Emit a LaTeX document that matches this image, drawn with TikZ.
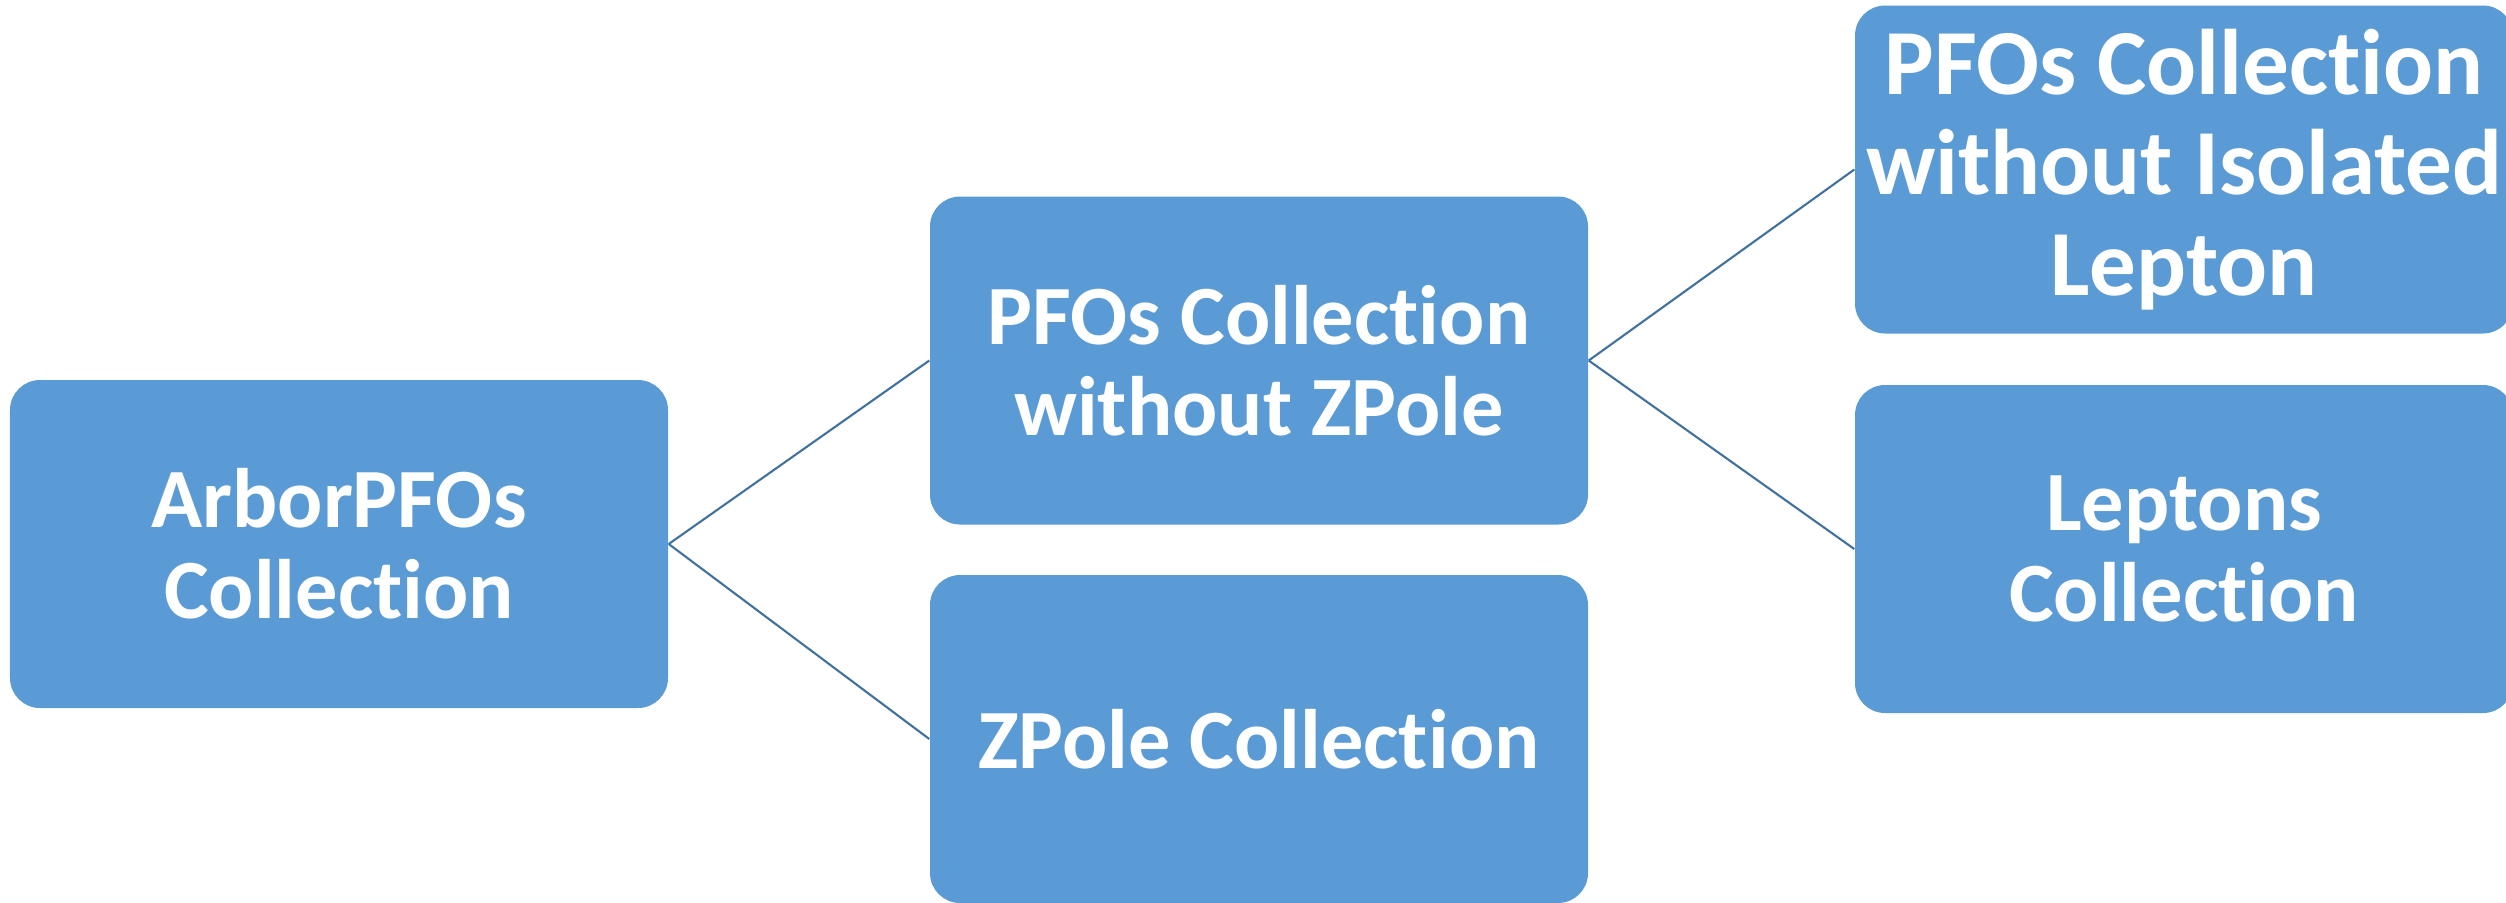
\documentclass[tikz,border=0pt]{standalone}
\usepackage{fontspec}
\setmainfont{Carlito}[Ligatures=NoCommon]
\usepackage{tikz}
\definecolor{boxblue}{HTML}{5B9BD5}
\definecolor{lineblue}{HTML}{41719C}

\begin{document}
\begin{tikzpicture}[
  coll/.style={draw=none, fill=boxblue, rounded corners=0.3cm, text=white,
    font=\bfseries\fontsize{24}{26}\selectfont, align=center,
    minimum width=6.58cm, minimum height=3.28cm, inner sep=0pt},
  big/.style={font=\bfseries\fontsize{26.5}{28.7}\selectfont},
  link/.style={draw=lineblue, line width=0.6pt}]
\useasboundingbox (0,0) rectangle (25.06,-9.02);
\clip (0,0) rectangle (25.06,-9.02);
\node[coll] (arbor) at (3.39,-5.44) {ArborPFOs\\Collection};
\node[coll] (nozpole) at (12.59,-3.605) {PFOs Collection\\without ZPole};
\node[coll] (zpole) at (12.59,-7.39) {ZPole Collection};
\node[coll, big] (noiso) at (21.84,-1.695) {PFOs Collection\\without Isolated\\Lepton};
\node[coll] (leptons) at (21.84,-5.49) {Leptons\\Collection};
\draw[link] (arbor.east) -- (nozpole.west);
\draw[link] (arbor.east) -- (zpole.west);
\draw[link] (nozpole.east) -- (noiso.west);
\draw[link] (nozpole.east) -- (leptons.west);
\end{tikzpicture}
\end{document}
